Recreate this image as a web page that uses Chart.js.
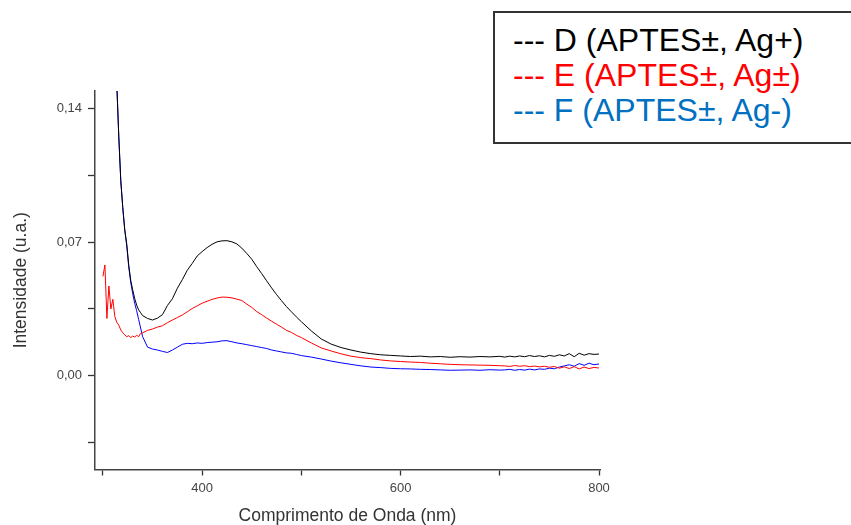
<!DOCTYPE html>
<html>
<head>
<meta charset="utf-8">
<script src="https://cdn.jsdelivr.net/npm/chart.js@4.4.1/dist/chart.umd.min.js"></script>
<style>
  body { margin: 0; background: #fff; overflow: hidden; }
  #wrap { position: relative; width: 851px; height: 525px; overflow: hidden; }
  #legendBox {
    position: absolute; left: 493px; top: 11px; width: 362px; height: 133px;
    box-sizing: border-box;
    border: 2px solid #333; background: #fff;
    padding: 10px 0 0 18px;
    font-family: "Liberation Sans", Arial, sans-serif; font-size: 32px; line-height: 35px;
    white-space: nowrap;
  }
</style>
</head>
<body>
<div id="wrap">
  <canvas id="spectraChart" width="851" height="525"></canvas>
  <div id="legendBox">
    <div style="color:#000">--- D (APTES±, Ag+)</div>
    <div style="color:#ff0000">--- E (APTES±, Ag±)</div>
    <div style="color:#0070c0">--- F (APTES±, Ag-)</div>
  </div>
</div>
<script>
// Wavelengths (nm)
const wavelengths = [
  300, 302, 304, 306, 308, 310, 312, 314, 316, 318, 320, 322, 324, 326, 328, 330, 332, 334, 336, 338, 340,
  345, 350, 355, 360, 365, 370, 375, 380, 385, 390, 395, 400, 405, 410, 415, 420, 425, 430, 435, 440,
  445, 450, 455, 460, 465, 470, 475, 480, 485, 490, 495, 500,
  510, 520, 530, 540, 550, 560, 570, 580, 590, 600, 610, 620, 630, 640, 650, 660, 670, 680, 690, 700,
  705, 710, 715, 720, 725, 730, 735, 740, 745, 750, 755, 760, 765, 770, 775, 780, 785, 790, 795, 800
];

// D (APTES±, Ag+)
const intensityD = [
  null, null, null, null, null, null, null, 0.152, 0.125, 0.102, 0.088, 0.0763, 0.069, 0.058, 0.050, 0.045, 0.0405, 0.037, 0.0345, 0.033, 0.0315,
  0.0300, 0.0292, 0.0302, 0.0320, 0.0368, 0.0403, 0.0458, 0.0503, 0.0552, 0.0588, 0.0627, 0.0650, 0.0671, 0.0688, 0.0701, 0.0706, 0.0707, 0.0701, 0.0690, 0.0668,
  0.0640, 0.0610, 0.0571, 0.0535, 0.0497, 0.0460, 0.0425, 0.0393, 0.0362, 0.0335, 0.0308, 0.0283,
  0.0235, 0.0193, 0.0166, 0.0148, 0.0135, 0.0124, 0.0116, 0.0110, 0.0107, 0.0104, 0.0101, 0.0103, 0.0099, 0.0101, 0.0097, 0.0100, 0.0098, 0.0101, 0.0099, 0.0102,
  0.0098, 0.0103, 0.0099, 0.0104, 0.0100, 0.0106, 0.0101, 0.0105, 0.0099, 0.0107, 0.0102, 0.0110, 0.0104, 0.0116, 0.0100, 0.0118, 0.0108, 0.0116, 0.0112, 0.0114
];

// E (APTES±, Ag±)
const intensityE = [
  0.052, 0.058, 0.030, 0.047, 0.035, 0.040, 0.031, 0.028, 0.0265, 0.024, 0.0225, 0.0215, 0.0205, 0.0210, 0.0200, 0.0208, 0.0203, 0.0212, 0.0205, 0.0222, 0.0225,
  0.0238, 0.0245, 0.0255, 0.0262, 0.0278, 0.0292, 0.0305, 0.0318, 0.0335, 0.0352, 0.0366, 0.0380, 0.0390, 0.0400, 0.0407, 0.0412, 0.0411, 0.0408, 0.0401, 0.0394,
  0.0375, 0.0358, 0.0336, 0.0320, 0.0302, 0.0286, 0.0270, 0.0255, 0.0238, 0.0227, 0.0212, 0.0200,
  0.0172, 0.0146, 0.0130, 0.0115, 0.0103, 0.0095, 0.0090, 0.0083, 0.0078, 0.0075, 0.0072, 0.0070, 0.0066, 0.0063, 0.0060, 0.0058, 0.0057, 0.0056, 0.0055, 0.0053,
  0.0052, 0.0049, 0.0054, 0.0050, 0.0053, 0.0048, 0.0051, 0.0047, 0.0050, 0.0045, 0.0049, 0.0040, 0.0047, 0.0038, 0.0048, 0.0036, 0.0046, 0.0038, 0.0044, 0.0041
];

// F (APTES±, Ag-)
const intensityF = [
  null, null, null, null, null, null, null, 0.152, 0.125, 0.102, 0.088, 0.0763, 0.068, 0.057, 0.049, 0.043, 0.038, 0.034, 0.0295, 0.025, 0.0205,
  0.0150, 0.0140, 0.0135, 0.0128, 0.0122, 0.0135, 0.0150, 0.0165, 0.0170, 0.0168, 0.0172, 0.0170, 0.0174, 0.0176, 0.0178, 0.0183, 0.0184, 0.0178, 0.0172, 0.0168,
  0.0163, 0.0158, 0.0153, 0.0148, 0.0143, 0.0135, 0.0130, 0.0125, 0.0120, 0.0118, 0.0112, 0.0106,
  0.0098, 0.0088, 0.0077, 0.0068, 0.0060, 0.0052, 0.0046, 0.0043, 0.0039, 0.0037, 0.0036, 0.0034, 0.0033, 0.0031, 0.0029, 0.0030, 0.0031, 0.0029, 0.0032, 0.0030,
  0.0031, 0.0034, 0.0029, 0.0033, 0.0030, 0.0035, 0.0031, 0.0036, 0.0034, 0.0040, 0.0037, 0.0046, 0.0052, 0.0058, 0.0050, 0.0064, 0.0055, 0.0066, 0.0058, 0.0062
];

// Tick positions (major + minor) and the ones that carry a label
const xTicks = [300, 400, 500, 600, 700, 800];
const xLabels = [400, 600, 800];
const yTicks = [-0.035, 0, 0.035, 0.07, 0.105, 0.14];
const yLabels = [0, 0.07, 0.14];

function toPoints(values) {
    return wavelengths.map((w, i) => ({ x: w, y: values[i] }));
}

const fontFamily = '"Liberation Sans", Arial, sans-serif';

const ctx = document.getElementById('spectraChart').getContext('2d');
const spectraChart = new Chart(ctx, {
    type: 'line',
    data: {
        datasets: [
            { label: 'D (APTES±, Ag+)', data: toPoints(intensityD), borderColor: '#000000' },
            { label: 'E (APTES±, Ag±)', data: toPoints(intensityE), borderColor: '#ff0000' },
            { label: 'F (APTES±, Ag-)', data: toPoints(intensityF), borderColor: '#0000ff' }
        ]
    },
    options: {
        responsive: false,
        animation: false,
        layout: { padding: { top: 91, right: 251, left: 0, bottom: 0 } },
        elements: {
            line: { borderWidth: 1, tension: 0 },
            point: { radius: 0 }
        },
        plugins: {
            legend: { display: false },
            tooltip: { enabled: false }
        },
        scales: {
            x: {
                type: 'linear',
                min: 292,
                max: 801,
                afterFit: (scale) => { scale.height = 55.5; },
                afterBuildTicks: (scale) => { scale.ticks = xTicks.map(v => ({ value: v })); },
                border: { display: true, color: '#444', width: 1.5 },
                grid: { drawOnChartArea: false, drawTicks: true, tickLength: 6, tickColor: '#333', tickWidth: 1.3 },
                ticks: {
                    autoSkip: false,
                    maxRotation: 0,
                    padding: 5,
                    color: '#444',
                    font: { family: fontFamily, size: 13 },
                    callback: (v) => xLabels.includes(v) ? String(v) : ''
                },
                title: {
                    display: true,
                    text: 'Comprimento de Onda (nm)',
                    color: '#333',
                    font: { family: fontFamily, size: 17.5, lineHeight: 1 },
                    padding: { top: 0, bottom: 0 }
                }
            },
            y: {
                min: -0.049,
                max: 0.149,
                afterFit: (scale) => { scale.width = 95; },
                afterBuildTicks: (scale) => { scale.ticks = yTicks.map(v => ({ value: v })); },
                border: { display: true, color: '#444', width: 1.5 },
                grid: { drawOnChartArea: false, drawTicks: true, tickLength: 7, tickColor: '#333', tickWidth: 1.3 },
                ticks: {
                    autoSkip: false,
                    padding: 6,
                    color: '#444',
                    font: { family: fontFamily, size: 13 },
                    callback: (v) => {
                        const hit = yLabels.find(l => Math.abs(l - v) < 1e-6);
                        return hit === undefined ? '' : hit.toFixed(2).replace('.', ',');
                    }
                },
                title: {
                    display: true,
                    text: 'Intensidade (u.a.)',
                    color: '#333',
                    font: { family: fontFamily, size: 17.5, lineHeight: 1 },
                    padding: { top: 12, bottom: 0 }
                }
            }
        }
    }
});
</script>
</body>
</html>
